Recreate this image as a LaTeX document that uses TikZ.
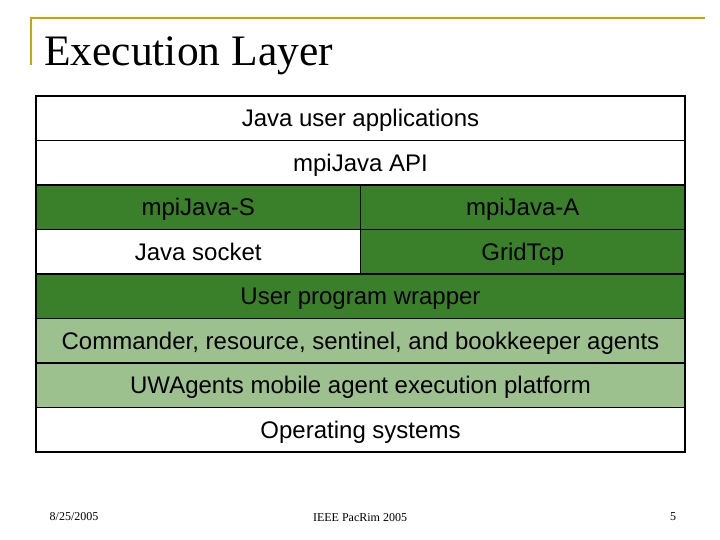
\documentclass[tikz,border=0pt]{standalone}
\usepackage{fontspec}
\setmainfont{Liberation Serif}
\newfontfamily\cellfont{Liberation Sans}
\usetikzlibrary{positioning}
\definecolor{gold}{RGB}{204,165,0}
\definecolor{darkgreen}{RGB}{58,128,42}
\definecolor{lightgreen}{RGB}{157,192,143}
\tikzset{
    cell/.style={rectangle, draw, line width=1.5pt, fill=white, outer sep=0pt, inner sep=0pt,
        minimum height=44.5pt, text height=17pt, text depth=0pt,
        font=\cellfont\fontsize{24}{26}\selectfont},
    wide/.style={cell, minimum width=649pt},
    half/.style={cell, minimum width=324.5pt},
    dark/.style={fill=darkgreen},
    light/.style={fill=lightgreen}
}
\begin{document}
\begin{tikzpicture}[x=1pt,y=-1pt]
    \useasboundingbox (0,0) rectangle (720,540);

    %-----Title-----
    \draw [gold, line width=2.5pt] (705,18) -- (31,18) -- (31,65);
    \node [anchor=base west, inner sep=0pt, font=\fontsize{43.5}{46}\selectfont] (title) at (44,66) {Execution Layer};

    %-----Layers-----
    % top rows
    \node [wide, anchor=north west] (apps) at (36,96) {Java user applications};
    \node [wide, below=0pt of apps] (api) {mpiJava API};

    % split rows
    \node [half, dark, below=0pt of api.south west, anchor=north west] (mpis) {mpiJava-S};
    \node [half, dark, right=0pt of mpis] (mpia) {mpiJava-A};
    \node [half, below=0pt of mpis] (sock) {Java socket};
    \node [half, dark, below=0pt of mpia] (gtcp) {GridTcp};

    % bottom rows
    \node [wide, dark, below=0pt of sock.south west, anchor=north west] (wrap) {User program wrapper};
    \node [wide, light, below=0pt of wrap] (agents) {Commander, resource, sentinel, and bookkeeper agents};
    \node [wide, light, below=0pt of agents] (uwa) {UWAgents mobile agent execution platform};
    \node [wide, below=0pt of uwa] (os) {Operating systems};

    %-----Footer-----
    \node [font=\fontsize{12}{14}\selectfont] (date) at (74,517) {8/25/2005};
    \node [font=\fontsize{12}{14}\selectfont] (conf) at (360,518) {IEEE PacRim 2005};
    \node [font=\fontsize{12}{14}\selectfont] (page) at (673,517) {5};
\end{tikzpicture}
\end{document}
